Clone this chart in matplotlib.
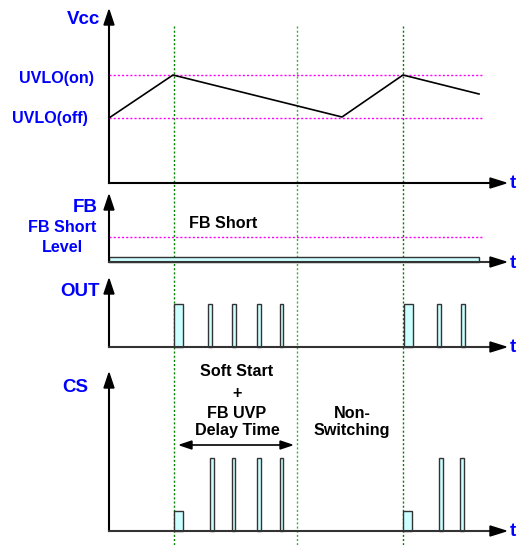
import matplotlib
matplotlib.use("Agg")
import matplotlib.pyplot as plt
from matplotlib.patches import Rectangle, Polygon

plt.rcParams['font.family'] = ['Liberation Sans', 'DejaVu Sans']

# ---- data (canvas units: x = time position, y = level position, y grows downward) ----
axis_x0 = 109
axis_x1 = 506
# panel baselines and arrow tops
panel_names = ["Vcc", "FB", "OUT", "CS"]
panel_base = [183, 262, 347, 531]
panel_top = [10, 195, 279, 373]

# Vcc waveform
vcc_t = [109, 173, 342, 403, 479]
vcc_v = [118, 75, 117, 75, 94]
uvlo_on = 75
uvlo_off = 118
level_end = 482

# FB
fb_level = 237
fb_bar = (109, 479, 256.5)   # start, end, top

# OUT pulses (start, end); top level
out_pulses = [(174, 183), (208, 212), (232, 236), (257, 261), (280, 283),
              (404, 413), (437, 441), (461, 465)]
out_top = 304

# CS pulses (start, end, top)
cs_pulses = [(174, 183, 511), (210, 214, 458), (232, 235, 458), (257, 261, 458),
             (280, 283, 458), (403, 412, 511), (439, 443, 458), (460, 464, 458)]

# event markers (vertical dotted lines)
event_t = [173.5, 297, 403]
event_colors = ['#008000', '#44aa44', '#008000']
event_y = (26, 545)

blue = '#0000ff'
cyan = '#ccffff'
edge = '#333333'

fig = plt.figure(figsize=(5.19, 5.45), dpi=100)
ax = fig.add_axes([0, 0, 1, 1])
ax.set_xlim(0, 519)
ax.set_ylim(545, 0)
ax.axis('off')

# event lines
for t, c in zip(event_t, event_colors):
    ax.plot([t, t], event_y, color=c, lw=1.0, ls=(0, (1.5, 1.5)), zorder=1)

# magenta levels
for y in [uvlo_on, uvlo_off, fb_level]:
    ax.plot([axis_x0, level_end], [y, y], color='#ff00ff', lw=1.0, ls=(0, (1.5, 1.5)), zorder=1)

# axes with arrows
axis_colors = ['black', '#333333', '#333333', '#333333']
for base, top, col in zip(panel_base, panel_top, axis_colors):
    ax.plot([axis_x0, axis_x0], [base, top + 12], color='black', lw=1.5, zorder=3)
    ax.add_patch(Polygon([[axis_x0, top], [axis_x0 - 5, top + 15], [axis_x0 + 5, top + 15]],
                         closed=True, color='black', zorder=4))
    ax.plot([axis_x0, axis_x1 - 14], [base, base], color=col, lw=1.5, zorder=3)
    ax.add_patch(Polygon([[axis_x1, base], [axis_x1 - 16, base - 5], [axis_x1 - 16, base + 5]],
                         closed=True, color='black', zorder=4))
    ax.text(513, base + 1, 't', color=blue, fontsize=13.5, fontweight='bold',
            ha='center', va='center')

# Vcc waveform
ax.plot(vcc_t, vcc_v, color='black', lw=1.2, zorder=3)

# FB bar
ax.add_patch(Rectangle((fb_bar[0], fb_bar[2]), fb_bar[1] - fb_bar[0], panel_base[1] - fb_bar[2],
                       facecolor=cyan, edgecolor=edge, lw=1.0, zorder=2))

# OUT pulses
for s, e in out_pulses:
    ax.add_patch(Rectangle((s, out_top), e - s, panel_base[2] - out_top,
                           facecolor=cyan, edgecolor=edge, lw=1.0, zorder=2))

# CS pulses
for s, e, top in cs_pulses:
    ax.add_patch(Rectangle((s, top), e - s, panel_base[3] - top,
                           facecolor=cyan, edgecolor=edge, lw=1.0, zorder=2))

# labels
big = 13.5
small = 11.6
ax.text(100, 19, 'Vcc', color=blue, fontsize=big, fontweight='bold', ha='right', va='center')
ax.text(94, 78, 'UVLO(on)', color=blue, fontsize=small, fontweight='bold', ha='right', va='center')
ax.text(88, 118.5, 'UVLO(off)', color=blue, fontsize=small, fontweight='bold', ha='right', va='center')
ax.text(98, 207.5, 'FB', color=blue, fontsize=big, fontweight='bold', ha='right', va='center')
ax.text(62.5, 228, 'FB Short', color=blue, fontsize=small, fontweight='bold', ha='center', va='center')
ax.text(62.5, 247, 'Level', color=blue, fontsize=small, fontweight='bold', ha='center', va='center')
ax.text(100, 291.5, 'OUT', color=blue, fontsize=big, fontweight='bold', ha='right', va='center')
ax.text(88, 387.5, 'CS', color=blue, fontsize=big, fontweight='bold', ha='right', va='center')

ax.text(223, 224, 'FB Short', color='black', fontsize=small, fontweight='bold', ha='center', va='center')

for y, s in zip([372, 393.5, 413, 431], ['Soft Start', '+', 'FB UVP', 'Delay Time']):
    ax.text(237, y, s, color='black', fontsize=small, fontweight='bold', ha='center', va='center')
for y, s in zip([413, 431], ['Non-', 'Switching']):
    ax.text(352, y, s, color='black', fontsize=small, fontweight='bold', ha='center', va='center')

# double arrow for delay time
arr_y = 445
arr_x0, arr_x1 = 180, 292
ax.plot([arr_x0 + 8, arr_x1 - 8], [arr_y, arr_y], color='black', lw=1.2, zorder=3)
ax.add_patch(Polygon([[arr_x0, arr_y], [arr_x0 + 12, arr_y - 4], [arr_x0 + 12, arr_y + 4]],
                     closed=True, color='black', zorder=4))
ax.add_patch(Polygon([[arr_x1, arr_y], [arr_x1 - 12, arr_y - 4], [arr_x1 - 12, arr_y + 4]],
                     closed=True, color='black', zorder=4))

fig.savefig('out.png', dpi=100)
